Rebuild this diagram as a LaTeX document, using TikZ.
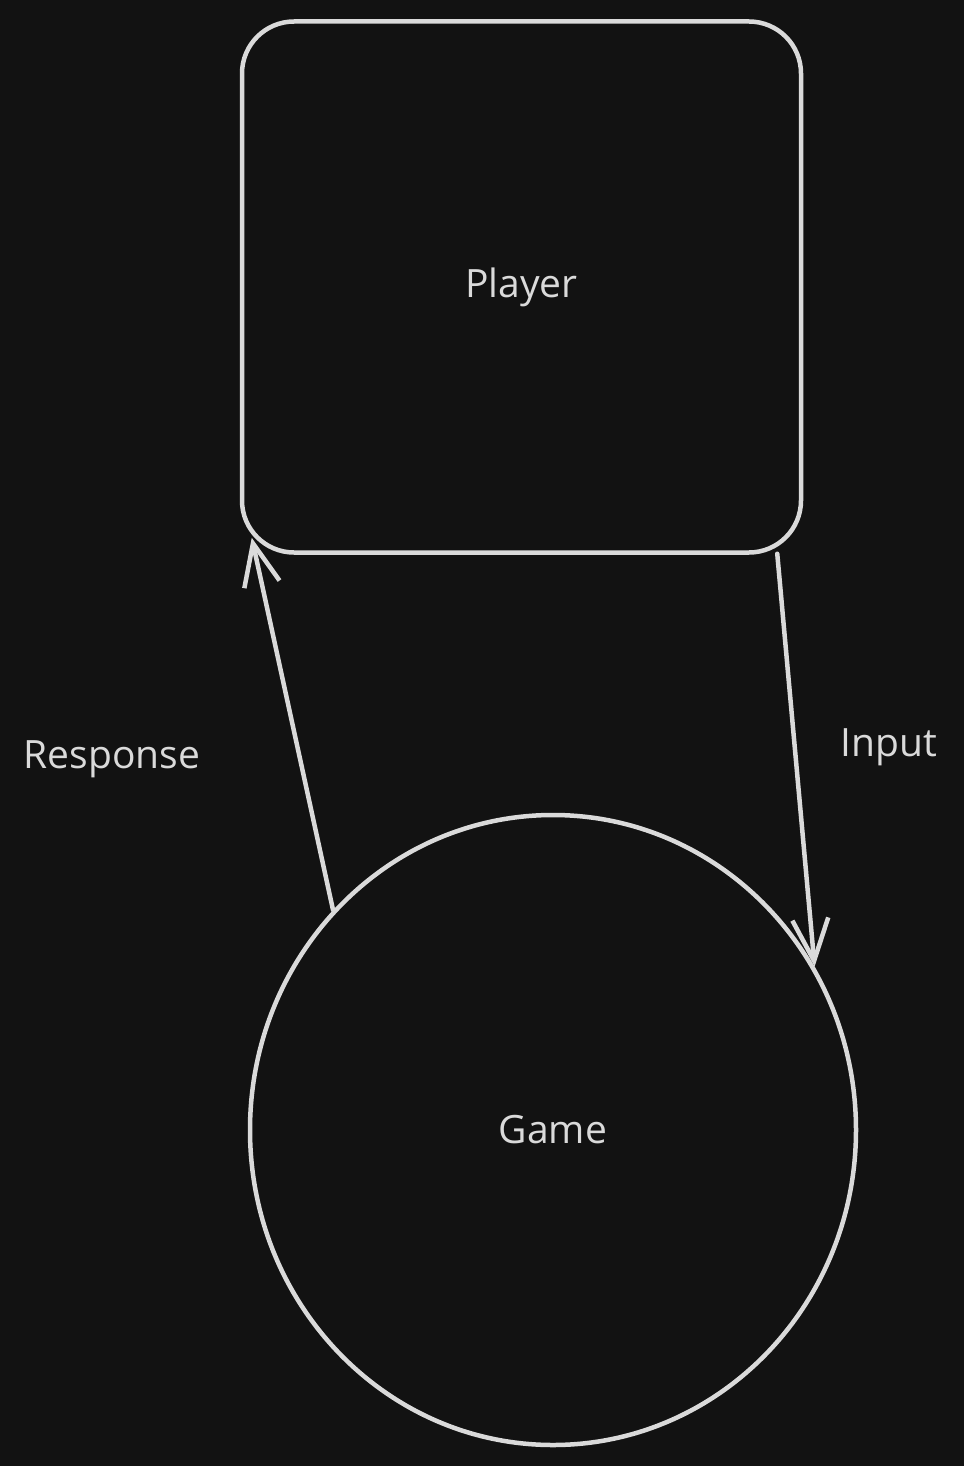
\documentclass[tikz,border=0pt]{standalone}
\usepackage{fontspec}
\setmainfont{Open Sans}
\usetikzlibrary{arrows.meta,positioning,shapes.geometric}
\definecolor{bgdark}{HTML}{121212}
\definecolor{inkgray}{HTML}{DADADA}
\tikzset{
	kasten/.style={draw=inkgray, line width=4.5pt, rounded corners=52pt, minimum width=559pt, minimum height=531pt, inner sep=0pt},
	kreis/.style={draw=inkgray, line width=4.5pt, ellipse, minimum width=606pt, minimum height=630pt, inner sep=0pt},
	pfeil/.style={draw=inkgray, line width=4.5pt, line cap=round, -{Straight Barb[length=42pt,width=36pt,line width=4.5pt]}},
	schrift/.style={text=inkgray, font=\fontsize{39}{46}\selectfont}
}

\begin{document}
\begin{tikzpicture}[x=1pt,y=-1pt]
\fill[bgdark] (0,0) rectangle (964,1466);
\useasboundingbox (0,0) rectangle (964,1466);
\node[kasten, schrift] (player) at (521.5,287) {Player};
\node[kreis, schrift] (game) at (553,1130) {Game};
\draw[pfeil] (game.135) -- ([xshift=12pt,yshift=17pt]player.south west);
\draw[pfeil] ([xshift=-26pt,yshift=1pt]player.south east) -- (game.32.5);
\node[schrift] (response) at (112,759) {Response};
\node[schrift] (input) at (889,747) {Input};
\end{tikzpicture}
\end{document}
